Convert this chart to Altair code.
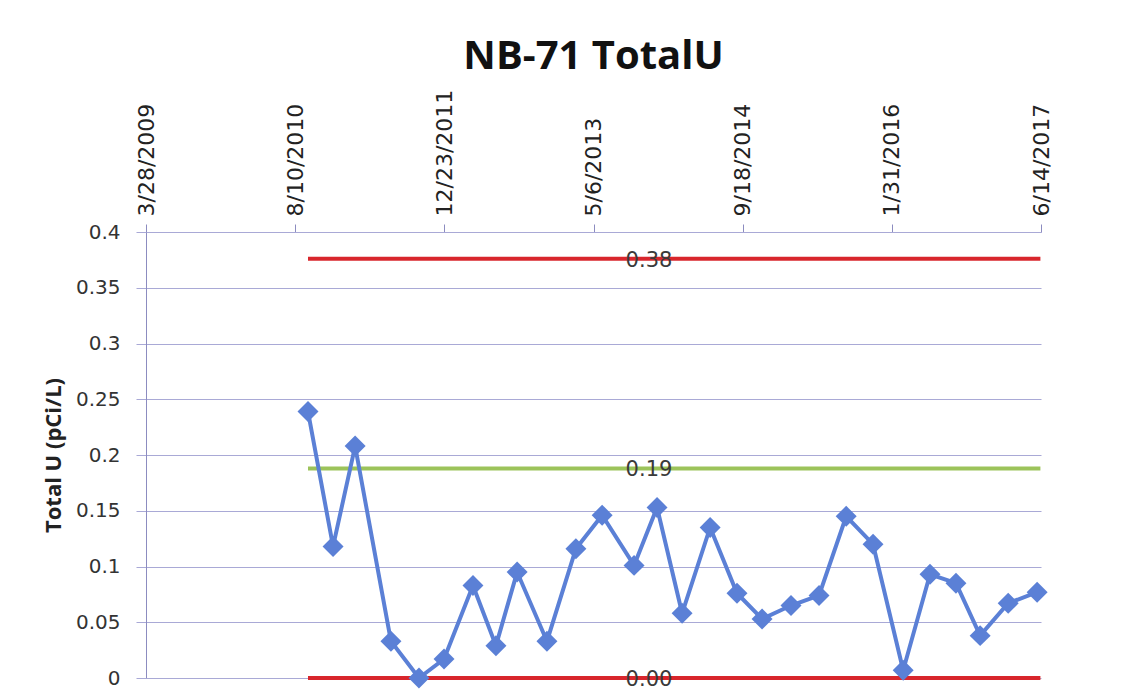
import altair as alt
import pandas as pd

# ---- data ----
sample_dates = [
    "2010-09-22", "2010-12-15", "2011-02-27", "2011-06-27", "2011-09-29",
    "2011-12-22", "2012-03-28", "2012-06-13", "2012-08-23", "2012-12-01",
    "2013-03-08", "2013-06-04", "2013-09-19", "2013-12-05", "2014-02-27",
    "2014-06-01", "2014-08-30", "2014-11-22", "2015-02-27", "2015-06-01",
    "2015-08-31", "2015-11-29", "2016-03-09", "2016-06-07", "2016-09-02",
    "2016-11-22", "2017-02-24", "2017-06-01",
]
total_u = [
    0.239, 0.118, 0.208, 0.033, 0.000,
    0.017, 0.083, 0.029, 0.095, 0.033,
    0.116, 0.146, 0.101, 0.153, 0.058,
    0.135, 0.076, 0.053, 0.065, 0.074,
    0.145, 0.120, 0.007, 0.093, 0.085,
    0.038, 0.067, 0.077,
]

ref_values = [0.376, 0.188, 0.0]
ref_labels = ["0.38", "0.19", "0.00"]
ref_kinds = ["upper", "mean", "lower"]
ref_start = "2010-09-22"
ref_end = "2017-06-12"
ref_label_date = "2013-11-08"

x_tick_dates = ["2009-03-28", "2010-08-10", "2011-12-23", "2013-05-06",
                "2014-09-18", "2016-01-31", "2017-06-14"]
y_ticks = [0, 0.05, 0.1, 0.15, 0.2, 0.25, 0.3, 0.35, 0.4]

# ---- tables ----
df = pd.DataFrame({"date": sample_dates, "u": total_u})
ref = pd.DataFrame({
    "start": [ref_start] * 3,
    "end": [ref_end] * 3,
    "ldate": [ref_label_date] * 3,
    "value": ref_values,
    "label": ref_labels,
    "kind": ref_kinds,
})

tick_ms = [int(v) for v in (pd.to_datetime(x_tick_dates).astype("int64") // 10**6)]
x_domain = [tick_ms[0], tick_ms[-1]]

grid_col = "#a9a9d6"
axis_col = "#8c8cc0"
blue = "#5b80d6"

x_scale = alt.Scale(type="utc", domain=x_domain, nice=False)
y_scale = alt.Scale(domain=[0, 0.4], nice=False, zero=False)

x_axis = alt.Axis(
    orient="top", values=tick_ms, format="%-m/%-d/%Y", labelAngle=-90,
    labelFont="DejaVu Sans", labelFontSize=22, labelColor="#222222",
    labelPadding=8, tickSize=8, tickColor=axis_col, domainColor=grid_col,
    grid=False, title=None, labelOverlap=False, labelFlush=False,
)
y_axis = alt.Axis(
    values=y_ticks, format="~g", title="Total U (pCi/L)",
    labelFont="DejaVu Sans", labelFontSize=20, labelColor="#333333",
    labelPadding=16,
    tickSize=10, tickColor=grid_col, domainColor=axis_col,
    grid=True, gridColor=grid_col, gridWidth=1,
    titleFont="Open Sans", titleFontSize=22, titleFontWeight="bold",
    titleColor="#222222", titlePadding=10,
)

rules = alt.Chart(ref).mark_rule(strokeWidth=4).encode(
    x=alt.X("start:T", scale=x_scale, axis=x_axis),
    x2="end:T",
    y=alt.Y("value:Q", scale=y_scale, axis=y_axis),
    color=alt.Color("kind:N", legend=None,
                    scale=alt.Scale(domain=["upper", "mean", "lower"],
                                    range=["#d8262c", "#9cc35a", "#d8262c"])),
)

ref_text = alt.Chart(ref).mark_text(
    font="DejaVu Sans", fontSize=21, color="#3a3a3a", baseline="middle", dy=2,
).encode(
    x=alt.X("ldate:T", scale=x_scale),
    y=alt.Y("value:Q", scale=y_scale),
    text="label:N",
)

line = alt.Chart(df).mark_line(color=blue, strokeWidth=4).encode(
    x=alt.X("date:T", scale=x_scale),
    y=alt.Y("u:Q", scale=y_scale),
)

points = alt.Chart(df).mark_point(
    shape="diamond", filled=True, size=440, color=blue, opacity=1,
).encode(
    x=alt.X("date:T", scale=x_scale),
    y=alt.Y("u:Q", scale=y_scale),
)

chart = alt.layer(rules, ref_text, line, points).properties(
    width=895, height=446,
    title=alt.TitleParams("NB-71 TotalU", font="Open Sans", fontSize=40,
                          fontWeight="bold", color="#111111", offset=12),
    autosize=alt.AutoSizeParams(type="none"),
    padding={"left": 138, "top": 224, "right": 80, "bottom": 12},
).configure(background="white").configure_view(stroke=None)

chart.save("out.html", embed_options={"renderer": "svg", "actions": False})
